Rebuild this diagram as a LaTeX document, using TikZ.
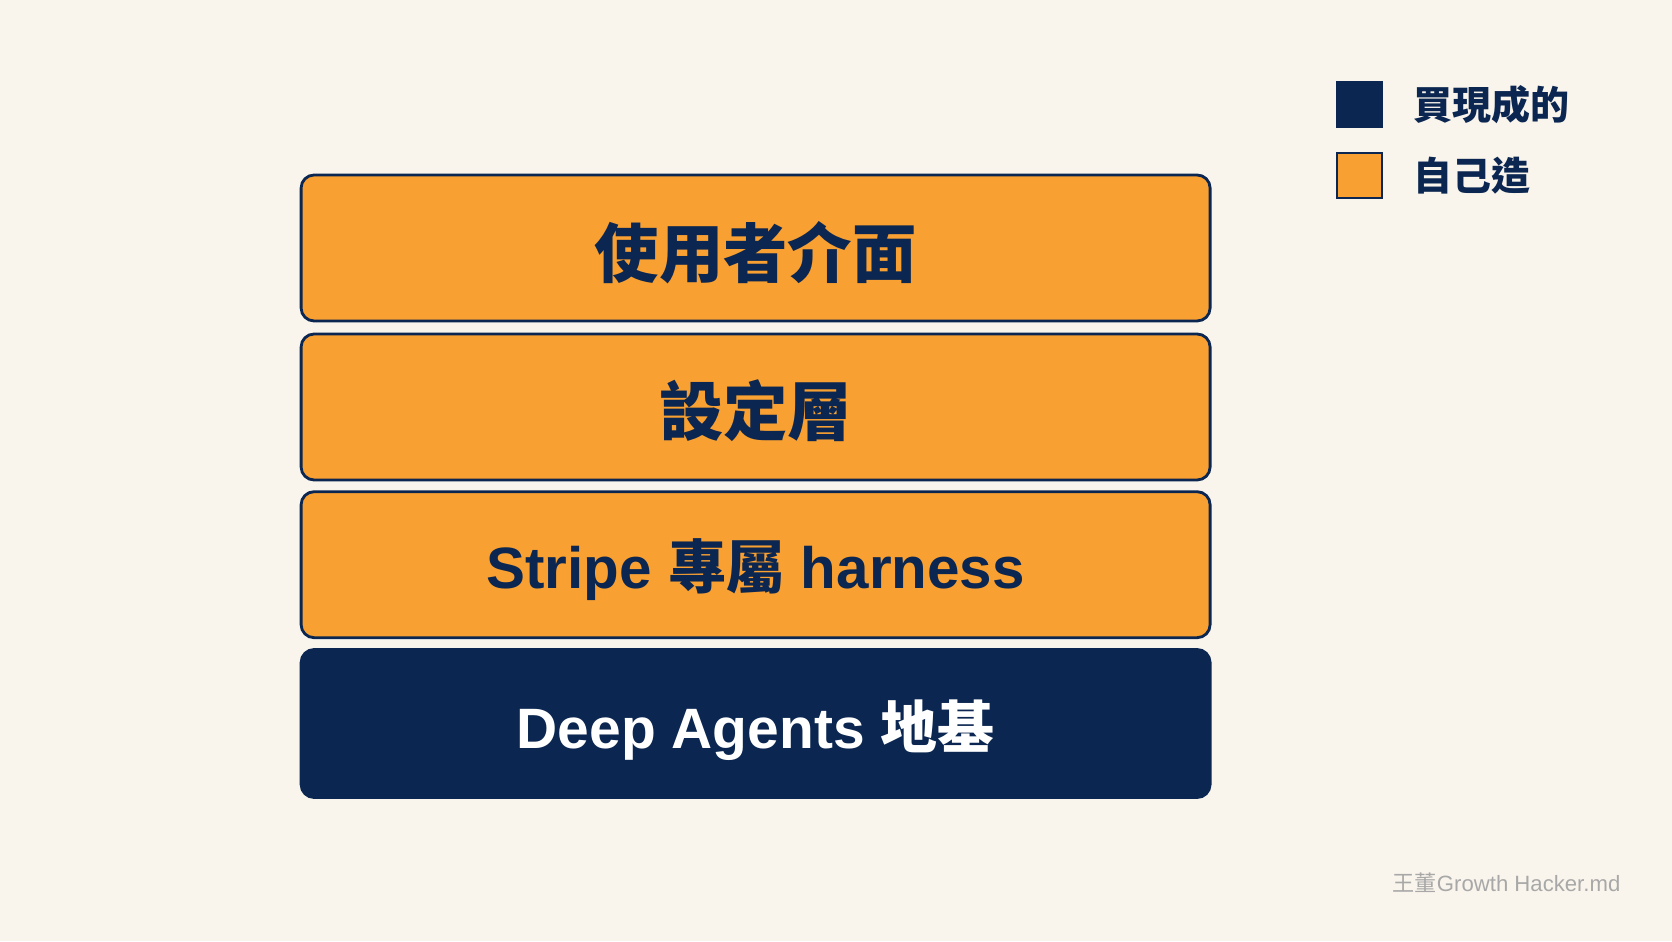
\documentclass[tikz,border=0pt]{standalone}
\usepackage{fontspec}
\setmainfont{Liberation Sans}
\newfontfamily\cjk{Noto Sans CJK TC}
\usepackage{tikz}
\definecolor{bgcol}{HTML}{FAF5EC}
\definecolor{navy}{HTML}{0B2650}
\definecolor{orng}{HTML}{F8A032}
\definecolor{markgray}{HTML}{A8A8A8}
\tikzset{
	layer/.style={draw=navy, line width=0.8pt, rounded corners=0.13cm, minimum width=9.09cm, minimum height=1.46cm, inner sep=0pt},
	ownlayer/.style={layer, fill=orng},
	boughtlayer/.style={layer, fill=navy, minimum height=1.48cm},
	layertext/.style={inner sep=0pt, text=navy, font=\bfseries\fontsize{16.6pt}{20pt}\selectfont},
	cjktext/.style={layertext, font=\cjk\bfseries\fontsize{18.3pt}{22pt}\selectfont},
	keybox/.style={draw=navy, line width=0.6pt, minimum size=0.45cm, inner sep=0pt},
	keytext/.style={anchor=west, inner sep=0pt, text=navy, font=\cjk\bfseries\fontsize{11.1pt}{13pt}\selectfont}
}

\begin{document}
\begin{tikzpicture}
			%%%%% START %%%%%
			
			\fill[bgcol] (0, 0) rectangle (16.72, 9.41);
			\useasboundingbox (0, 0) rectangle (16.72, 9.41);
			
			% stack
			\node[ownlayer] (ui) at (7.556, 6.93) {};
			\node[ownlayer] (config) at (7.556, 5.34) {};
			\node[ownlayer] (harness) at (7.556, 3.763) {};
			\node[boughtlayer] (base) at (7.556, 2.175) {};
			
			\node[cjktext] (uitext) at ([yshift=-0.045cm]ui.center) {使用者介面};
			\node[cjktext] (configtext) at ([yshift=-0.04cm]config.center) {設定層};
			\node[layertext] (harnesstext) at ([yshift=-0.05cm]harness.center) {Stripe {\cjk 專屬} harness};
			\node[layertext, text=white, font=\bfseries\fontsize{16.2pt}{20pt}\selectfont] (basetext) at ([yshift=-0.065cm]base.center) {Deep Agents {\cjk 地基}};
			
			% legend
			\node[keybox, fill=navy] (keybuy) at (13.594, 8.368) {};
			\node[keybox, fill=orng] (keyown) at (13.594, 7.655) {};
			\node[keytext] (buytext) at (14.13, 8.36) {買現成的};
			\node[keytext] (owntext) at (14.13, 7.65) {自己造};
			
			% watermark
			\node[anchor=east, inner sep=0pt, text=markgray, font=\fontsize{6.3pt}{8pt}\selectfont] (mark) at (16.21, 0.58) {{\cjk 王董}Growth Hacker.md};
			
			%%%%% END %%%%%
		\end{tikzpicture}
\end{document}
